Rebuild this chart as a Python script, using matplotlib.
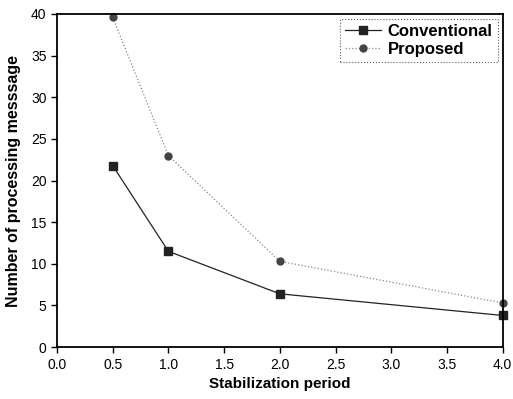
import matplotlib
matplotlib.use("Agg")
import matplotlib.pyplot as plt

plt.rcParams['font.family'] = ['Liberation Sans', 'DejaVu Sans']

period = [0.5, 1.0, 2.0, 4.0]
conventional = [21.8, 11.5, 6.4, 3.8]
proposed = [39.6, 23.0, 10.3, 5.3]

fig = plt.figure(figsize=(5.13, 3.99), dpi=100)
ax = fig.add_axes([0.111, 0.130, 0.869, 0.835])

ax.plot(period, conventional, marker='s', markersize=6, linestyle='-', linewidth=0.9,
        color='#222222', label='Conventional', clip_on=False)
ax.plot(period, proposed, marker='o', markersize=5, linestyle=':', linewidth=0.9,
        color='#888888', markerfacecolor='#444444', markeredgecolor='#444444',
        label='Proposed', clip_on=False)

ax.set_xlim(0, 4.0)
ax.set_ylim(0, 40)
ax.set_xticks([0, 0.5, 1.0, 1.5, 2.0, 2.5, 3.0, 3.5, 4.0])
ax.set_xticklabels(['0.0', '0.5', '1.0', '1.5', '2.0', '2.5', '3.0', '3.5', '4.0'])
ax.set_yticks(range(0, 41, 5))
ax.tick_params(direction='out', length=4, width=1, labelsize=10)

for s in ax.spines.values():
    s.set_linewidth(1.3)

ax.set_xlabel('Stabilization period', fontsize=11, fontweight='bold', labelpad=4)
ax.set_ylabel('Number of processing messsage', fontsize=11.5, fontweight='bold', labelpad=7)

leg = ax.legend(loc='upper right', prop={'weight': 'bold', 'size': 12},
                frameon=True, fancybox=False, edgecolor='#333333',
                handlelength=2.2, borderpad=0.3, labelspacing=0.2, handletextpad=0.4,
                borderaxespad=0.3)
leg.get_frame().set_linewidth(0.8)
leg.get_frame().set_linestyle(':')

fig.savefig('out.png', dpi=100)
